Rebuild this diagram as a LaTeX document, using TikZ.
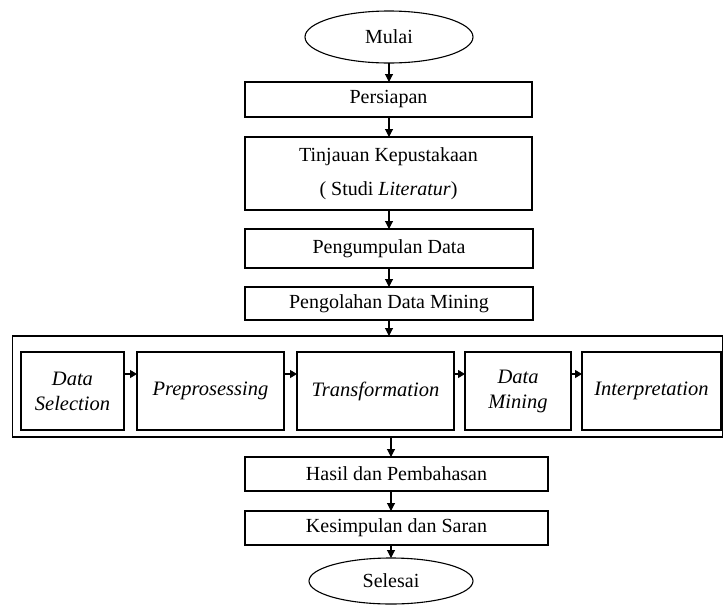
\documentclass[tikz,border=0pt]{standalone}
\usepackage{fontspec}
\setmainfont{Liberation Serif}
\usetikzlibrary{shapes.geometric,arrows.meta}
\begin{document}
\begin{tikzpicture}[x=1pt,y=-1pt,
  base/.style={draw, line width=1.1pt, inner sep=0pt, outer sep=0pt, align=center,
    font=\fontsize{20}{34}\selectfont},
  term/.style={base, ellipse},
  stepbox/.style={base, rectangle, minimum width=#1},
  stepbox/.default=287pt,
  inbox/.style={base, rectangle, minimum height=78pt, font=\fontsize{20.5}{25}\selectfont\itshape},
  arr/.style={line width=1.1pt, -{Triangle[length=8pt,width=8pt]}},
  sarr/.style={line width=1.1pt, -{Triangle[length=7pt,width=8pt]}}
]
\useasboundingbox (0,0) rectangle (724,606);

\node[term, minimum width=168pt, minimum height=52pt] (mulai) at (389,37) {Mulai};
\node[stepbox, minimum height=35pt] (per) at (388.5,99.5) {Persiapan};
\node[stepbox, minimum height=73pt] (tin) at (388.5,173.5) {Tinjauan Kepustakaan\\( Studi \textit{Literatur})};
\node[stepbox=288pt, minimum height=39pt] (pgm) at (389,248.5) {Pengumpulan Data};
\node[stepbox=288pt, minimum height=33pt] (pgl) at (389,303.5) {Pengolahan Data Mining};

\node[draw, line width=1.1pt, minimum width=710pt, minimum height=101pt, inner sep=0pt, outer sep=0pt] (outer) at (367.5,386.5) {};
\node[inbox, minimum width=103pt] (ds) at (72.5,391) {Data\\Selection};
\node[inbox, minimum width=147pt] (pp) at (210.5,391) {Preprosessing};
\node[inbox, minimum width=157pt] (tr) at (375.5,391) {Transformation};
\node[inbox, minimum width=106pt] (dm) at (518,391) {Data\\Mining};
\node[inbox, minimum width=139pt] (ip) at (651.5,391) {Interpretation};

\node[stepbox=303pt, minimum height=34pt] (has) at (396.5,474) {Hasil dan Pembahasan};
\node[stepbox=303pt, minimum height=34pt] (kes) at (396.5,528) {Kesimpulan dan Saran};
\node[term, minimum width=164pt, minimum height=46pt] (sel) at (391,581) {Selesai};

\draw[arr] (mulai.south) -- (mulai.south |- per.north);
\draw[arr] (per.south -| mulai.south) -- (tin.north -| mulai.south);
\draw[arr] (tin.south -| mulai.south) -- (pgm.north -| mulai.south);
\draw[arr] (pgm.south -| mulai.south) -- (pgl.north -| mulai.south);
\draw[arr] (pgl.south -| mulai.south) -- (outer.north -| mulai.south);

\draw[sarr] ([yshift=17pt]ds.east) -- ([yshift=17pt]pp.west);
\draw[sarr] ([yshift=17pt]pp.east) -- ([yshift=17pt]tr.west);
\draw[sarr] ([yshift=17pt]tr.east) -- ([yshift=17pt]dm.west);
\draw[sarr] ([yshift=17pt]dm.east) -- ([yshift=17pt]ip.west);

\draw[arr] (outer.south -| sel.north) -- (has.north -| sel.north);
\draw[arr] (has.south -| sel.north) -- (kes.north -| sel.north);
\draw[arr] (kes.south -| sel.north) -- (sel.north);
\end{tikzpicture}
\end{document}
